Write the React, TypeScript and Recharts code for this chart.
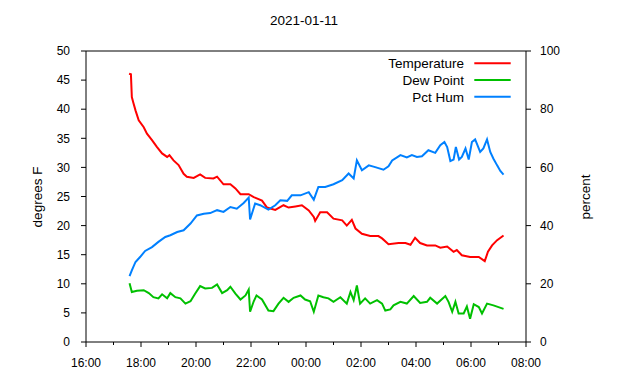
import React from 'react';
import { LineChart, Line, XAxis, YAxis, ReferenceLine } from 'recharts';

const chartTitle = '2021-01-11';
const leftAxisLabel = 'degrees F';
const rightAxisLabel = 'percent';

// x axis: minutes since 16:00
const xTicks = [0, 60, 120, 180, 240, 300, 360, 420, 480, 540, 600, 660, 720, 780, 840, 900, 960];
const xTickLabels = ['16:00', '18:00', '20:00', '22:00', '00:00', '02:00', '04:00', '06:00', '08:00'];
const leftTicks = [0, 5, 10, 15, 20, 25, 30, 35, 40, 45, 50];
const rightTicks = [0, 20, 40, 60, 80, 100];

const seriesNames = ['Temperature', 'Dew Point', 'Pct Hum'];
const seriesColors = ['#ff0000', '#00c000', '#0080ff'];

const tempTimes = [94, 98, 100, 103, 108, 115, 126, 133, 144, 155, 166, 177, 182, 191, 202, 213, 220, 235, 249, 260, 278, 286, 300, 315, 326, 337, 355, 366, 384, 395, 413, 431, 442, 457, 471, 486, 497, 500, 511, 526, 540, 559, 569, 580, 588, 602, 620, 638, 646, 660, 682, 697, 708, 718, 729, 744, 762, 773, 788, 802, 809, 820, 838, 857, 870, 877, 886, 897, 911];
const tempValues = [46.1, 46.0, 42.1, 41.2, 39.8, 38.1, 36.9, 35.8, 34.7, 33.5, 32.4, 31.8, 32.1, 31.2, 30.4, 28.9, 28.4, 28.2, 28.8, 28.2, 28.1, 28.4, 27.1, 27.1, 26.4, 25.4, 25.4, 24.9, 24.3, 23.1, 22.7, 23.5, 23.1, 23.3, 23.5, 22.6, 21.5, 20.8, 22.3, 22.3, 21.2, 20.9, 20.0, 21.0, 19.5, 18.6, 18.2, 18.2, 17.8, 16.8, 17.0, 17.0, 16.7, 17.9, 17.0, 16.6, 16.6, 16.2, 16.4, 15.5, 15.8, 14.9, 14.6, 14.6, 13.9, 15.5, 16.6, 17.5, 18.3];

const dewTimes = [95, 100, 111, 126, 137, 147, 158, 166, 177, 184, 195, 206, 217, 228, 238, 249, 260, 275, 286, 297, 308, 315, 326, 337, 348, 355, 358, 366, 372, 384, 398, 409, 420, 431, 442, 453, 468, 478, 489, 497, 507, 518, 529, 540, 555, 569, 577, 584, 591, 598, 609, 620, 635, 646, 653, 664, 671, 686, 700, 715, 729, 744, 751, 766, 784, 791, 799, 806, 813, 824, 831, 838, 846, 857, 864, 875, 889, 900, 911];
const dewValues = [10.1, 8.6, 8.8, 8.9, 8.4, 7.7, 7.5, 8.2, 7.5, 8.4, 7.7, 7.5, 6.6, 7.0, 8.3, 9.6, 9.2, 9.3, 9.9, 8.4, 8.9, 9.5, 8.3, 7.3, 8.0, 9.0, 5.2, 7.0, 8.0, 7.3, 5.4, 5.3, 6.6, 7.6, 6.9, 7.6, 8.0, 7.3, 7.0, 5.2, 8.0, 7.7, 7.5, 6.9, 7.7, 6.6, 8.6, 7.2, 9.7, 6.6, 7.5, 6.6, 7.2, 6.6, 5.4, 5.6, 6.3, 6.9, 6.6, 7.9, 6.7, 6.9, 7.6, 6.6, 7.9, 6.9, 5.2, 6.9, 4.9, 4.9, 6.1, 4.0, 6.5, 6.0, 4.9, 6.6, 6.3, 6.0, 5.7];

const humTimes = [95, 100, 108, 118, 129, 144, 158, 173, 184, 199, 213, 228, 242, 257, 271, 286, 300, 315, 329, 344, 355, 358, 369, 380, 398, 413, 424, 439, 449, 468, 486, 497, 507, 522, 540, 559, 573, 584, 591, 602, 617, 631, 649, 660, 668, 682, 686, 700, 711, 722, 733, 747, 762, 773, 782, 788, 795, 802, 807, 814, 820, 828, 835, 842, 849, 860, 867, 875, 882, 889, 897, 904, 911];
const humValues = [22.6, 24.6, 27.5, 29.2, 31.3, 32.6, 34.4, 36.1, 36.7, 37.8, 38.4, 40.7, 43.5, 44.1, 44.3, 45.3, 44.7, 46.4, 45.8, 47.8, 49.6, 42.1, 47.6, 47.0, 45.5, 47.0, 48.7, 48.5, 50.4, 50.4, 51.5, 48.9, 53.3, 53.3, 54.2, 55.6, 57.9, 56.2, 62.4, 59.0, 60.7, 60.1, 59.2, 60.4, 62.4, 63.8, 64.2, 63.4, 64.2, 63.6, 63.8, 65.9, 65.0, 67.6, 68.7, 67.0, 62.2, 62.7, 67.0, 62.7, 63.6, 66.5, 62.7, 68.7, 69.6, 65.3, 66.5, 69.6, 65.3, 63.0, 60.7, 58.8, 57.5];

const tempData = tempTimes.map((t, i) => ({ t, v: tempValues[i] }));
const dewData = dewTimes.map((t, i) => ({ t, v: dewValues[i] }));
const humData = humTimes.map((t, i) => ({ t, v: humValues[i] }));

const FONT = '"Liberation Sans", Arial, sans-serif';
const LABEL_SIZE = 13.5;

const XTick = (props: any) => {
  const { x, y, payload } = props;
  const m = payload.value as number;
  const major = m % 120 === 0;
  return (
    <g>
      <line x1={x} y1={y} x2={x} y2={y + (major ? 5 : 3)} stroke="#000" strokeWidth={1} />
      {major && (
        <text x={x} y={y + 24.5} textAnchor="middle" fill="#000" fontSize={12} fontFamily={FONT}>
          {xTickLabels[m / 120]}
        </text>
      )}
    </g>
  );
};

export default function App() {
  return (
    <div style={{ position: 'absolute', left: 0, top: 0, width: 640, height: 380, background: '#fff' }}>
      <LineChart width={640} height={380} margin={{ top: 51, right: 0, bottom: 0, left: 0 }}>
        <XAxis
          dataKey="t"
          type="number"
          domain={[0, 960]}
          ticks={xTicks}
          allowDataOverflow
          height={38}
          tickSize={0}
          tickMargin={0}
          tickLine={false}
          axisLine={{ stroke: '#000', strokeWidth: 1 }}
          tick={<XTick />}
          interval={0}
        />
        <YAxis
          yAxisId="left"
          orientation="left"
          width={86}
          domain={[0, 50]}
          ticks={leftTicks}
          allowDataOverflow
          interval={0}
          tickSize={5}
          tickMargin={11}
          axisLine={{ stroke: '#000', strokeWidth: 1 }}
          tickLine={{ stroke: '#000', strokeWidth: 1 }}
          tick={{ fill: '#000', fontSize: 12, fontFamily: FONT }}
        />
        <YAxis
          yAxisId="right"
          orientation="right"
          width={114}
          domain={[0, 100]}
          ticks={rightTicks}
          allowDataOverflow
          interval={0}
          tickSize={5}
          tickMargin={9}
          axisLine={{ stroke: '#000', strokeWidth: 1 }}
          tickLine={{ stroke: '#000', strokeWidth: 1 }}
          tick={{ fill: '#000', fontSize: 12, fontFamily: FONT }}
        />
        <ReferenceLine yAxisId="left" y={50} stroke="#000" strokeWidth={1} />
        <Line
          data={tempData}
          dataKey="v"
          name={seriesNames[0]}
          yAxisId="left"
          type="linear"
          stroke={seriesColors[0]}
          strokeWidth={2}
          dot={false}
          activeDot={false}
          isAnimationActive={false}
        />
        <Line
          data={dewData}
          dataKey="v"
          name={seriesNames[1]}
          yAxisId="left"
          type="linear"
          stroke={seriesColors[1]}
          strokeWidth={2}
          dot={false}
          activeDot={false}
          isAnimationActive={false}
        />
        <Line
          data={humData}
          dataKey="v"
          name={seriesNames[2]}
          yAxisId="right"
          type="linear"
          stroke={seriesColors[2]}
          strokeWidth={2}
          dot={false}
          activeDot={false}
          isAnimationActive={false}
        />
      </LineChart>
      <svg
        width={640}
        height={380}
        style={{ position: 'absolute', left: 0, top: 0, pointerEvents: 'none' }}
      >
        <text x={304} y={25} textAnchor="middle" fill="#000" fontSize={LABEL_SIZE} fontFamily={FONT}>
          {chartTitle}
        </text>
        <text
          x={0}
          y={0}
          transform="translate(42,197) rotate(-90)"
          textAnchor="middle"
          fill="#000"
          fontSize={LABEL_SIZE}
          fontFamily={FONT}
        >
          {leftAxisLabel}
        </text>
        <text
          x={0}
          y={0}
          transform="translate(590,197) rotate(-90)"
          textAnchor="middle"
          fill="#000"
          fontSize={LABEL_SIZE}
          fontFamily={FONT}
        >
          {rightAxisLabel}
        </text>
        {seriesNames.map((name, i) => (
          <g key={name}>
            <text
              x={464}
              y={63.3 + i * 16.7 + 4.8}
              textAnchor="end"
              fill="#000"
              fontSize={LABEL_SIZE}
              fontFamily={FONT}
            >
              {name}
            </text>
            <line
              x1={474.3}
              x2={510.7}
              y1={63.3 + i * 16.7}
              y2={63.3 + i * 16.7}
              stroke={seriesColors[i]}
              strokeWidth={2}
            />
          </g>
        ))}
      </svg>
    </div>
  );
}
